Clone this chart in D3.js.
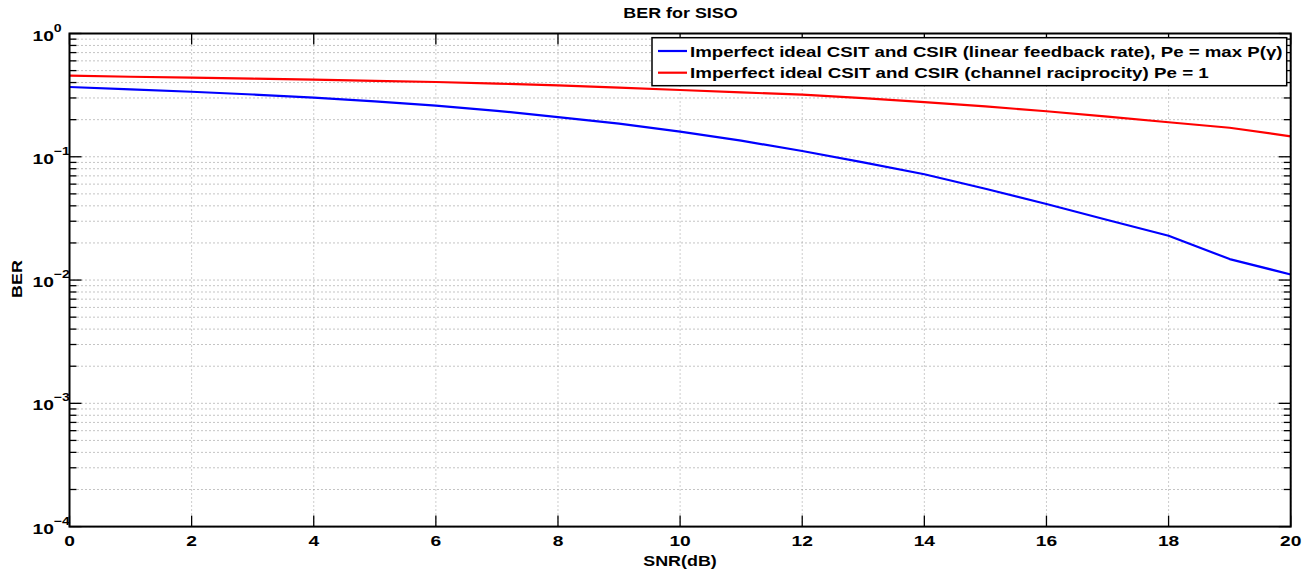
<!DOCTYPE html>
<html>
<head>
<meta charset="utf-8">
<script src="https://cdn.jsdelivr.net/npm/d3@7"></script>
<style>
  html, body { margin: 0; padding: 0; background: #fff; }
  svg { display: block; }
  text { font-family: "Liberation Sans", Arial, sans-serif; font-weight: bold; fill: #000; }
</style>
</head>
<body>
<svg id="chart" width="1312" height="576"></svg>
<script>
// SNR points (dB)
const snr = [0,1,2,3,4,5,6,7,8,9,10,11,12,13,14,15,16,17,18,19,20];
// BER, linear feedback rate, Pe = max P(gamma)
const berFeedback = [0.368,0.352,0.337,0.320,0.3015,0.281,0.260,0.236,0.210,0.186,0.160,0.135,0.1114,0.090,0.0721,0.055,0.0414,0.0307,0.0229,0.0148,0.0111];
// BER, channel reciprocity, Pe = 1
const berReciprocity = [0.455,0.446,0.438,0.430,0.422,0.413,0.404,0.392,0.380,0.364,0.348,0.333,0.319,0.299,0.278,0.256,0.234,0.212,0.1905,0.172,0.1466];
const seriesNames = [
  "Imperfect ideal CSIT and CSIR (linear feedback rate), Pe = max P(\u03b3)",
  "Imperfect ideal CSIT and CSIR (channel raciprocity) Pe = 1"
];
const seriesColors = ["#0000ff", "#ff0000"];
const xTicks = [0,2,4,6,8,10,12,14,16,18,20];
const yDecades = [0,-1,-2,-3,-4];

const svg = d3.select("#chart");
const m = { left: 69.5, right: 1290.7, top: 33.5, bottom: 526.6 };
const x = d3.scaleLinear().domain([0, 20]).range([m.left, m.right]);
const y = d3.scaleLog().domain([1e-4, 1]).range([m.bottom, m.top]);
const SX = 1.28; // horizontal stretch of the lettering

function stretchedText(parent, px, py, str, size, anchor, sx) {
  const g = parent.append("g").attr("transform", `translate(${px},${py}) scale(${sx || SX},1)`);
  return g.append("text").attr("font-size", size).attr("text-anchor", anchor || "start").text(str);
}

// grid
const grid = svg.append("g");
const minorVals = [];
for (let e = -4; e < 0; e++) for (let k = 1; k <= 9; k++) minorVals.push(k * Math.pow(10, e));
minorVals.push(1);
minorVals.forEach(v => {
  grid.append("line")
    .attr("x1", m.left).attr("x2", m.right)
    .attr("y1", y(v)).attr("y2", y(v))
    .attr("stroke", "#888").attr("stroke-width", 1).attr("stroke-dasharray", "1,3");
});
xTicks.forEach(t => {
  grid.append("line")
    .attr("x1", x(t)).attr("x2", x(t))
    .attr("y1", m.top).attr("y2", m.bottom)
    .attr("stroke", "#999").attr("stroke-width", 1).attr("stroke-dasharray", "1,3");
});

// tick marks on all four sides
const ticks = svg.append("g").attr("stroke", "#000").attr("stroke-width", 1.3);
minorVals.forEach(v => {
  const major = Math.abs(Math.log10(v) - Math.round(Math.log10(v))) < 1e-9;
  const len = major ? 12 : 7;
  ticks.append("line").attr("x1", m.left).attr("x2", m.left + len).attr("y1", y(v)).attr("y2", y(v));
  ticks.append("line").attr("x1", m.right).attr("x2", m.right - len).attr("y1", y(v)).attr("y2", y(v));
});
xTicks.forEach(t => {
  ticks.append("line").attr("x1", x(t)).attr("x2", x(t)).attr("y1", m.bottom).attr("y2", m.bottom - 11);
  ticks.append("line").attr("x1", x(t)).attr("x2", x(t)).attr("y1", m.top).attr("y2", m.top + 11);
});

// series lines
const line = d3.line().x((d, i) => x(snr[i])).y(d => y(d));
[berFeedback, berReciprocity].forEach((s, i) => {
  svg.append("path").datum(s)
    .attr("fill", "none").attr("stroke", seriesColors[i])
    .attr("stroke-width", 2.2).attr("stroke-linejoin", "round")
    .attr("d", line);
});

// axes box
svg.append("rect")
  .attr("x", m.left).attr("y", m.top)
  .attr("width", m.right - m.left).attr("height", m.bottom - m.top)
  .attr("fill", "none").attr("stroke", "#000").attr("stroke-width", 2);

// x tick labels
xTicks.forEach(t => stretchedText(svg, x(t), 546, String(t), 15, "middle"));

// y tick labels 10^n
yDecades.forEach(e => {
  const g = svg.append("g").attr("transform", `translate(32.5,${y(Math.pow(10, e)) + 7}) scale(${SX},1)`);
  const t = g.append("text").attr("font-size", 15);
  t.append("tspan").text("10");
  t.append("tspan").attr("font-size", 11).attr("dy", -9).text(e === 0 ? "0" : "\u2212" + (-e));
});

// title and axis labels
stretchedText(svg, 680.5, 18, "BER for SISO", 14, "middle");
stretchedText(svg, 680, 566, "SNR(dB)", 14, "middle");
svg.append("g").attr("transform", `translate(22,279) rotate(-90) scale(${SX},1)`)
  .append("text").attr("font-size", 14).attr("text-anchor", "middle").text("BER");

// legend
const lg = svg.append("g");
const box = { x0: 652, x1: 1286.7, y0: 37.7, y1: 85.7 };
lg.append("rect").attr("x", box.x0).attr("y", box.y0).attr("width", box.x1 - box.x0).attr("height", box.y1 - box.y0)
  .attr("fill", "#fff").attr("stroke", "#000").attr("stroke-width", 1.5);
const rowsY = [51, 72.7];
const rowEnds = [1283, 1209];
const textX = 690;
seriesNames.forEach((name, i) => {
  lg.append("line").attr("x1", 658).attr("x2", 687).attr("y1", rowsY[i]).attr("y2", rowsY[i])
    .attr("stroke", seriesColors[i]).attr("stroke-width", 2.2);
  const t = stretchedText(lg, textX, rowsY[i] + 5.5, name, 15, "start", 1);
  // widen each entry to its run length
  const sx = (rowEnds[i] - textX) / t.node().getComputedTextLength();
  d3.select(t.node().parentNode).attr("transform", `translate(${textX},${rowsY[i] + 5.5}) scale(${sx},1)`);
});
</script>
</body>
</html>
